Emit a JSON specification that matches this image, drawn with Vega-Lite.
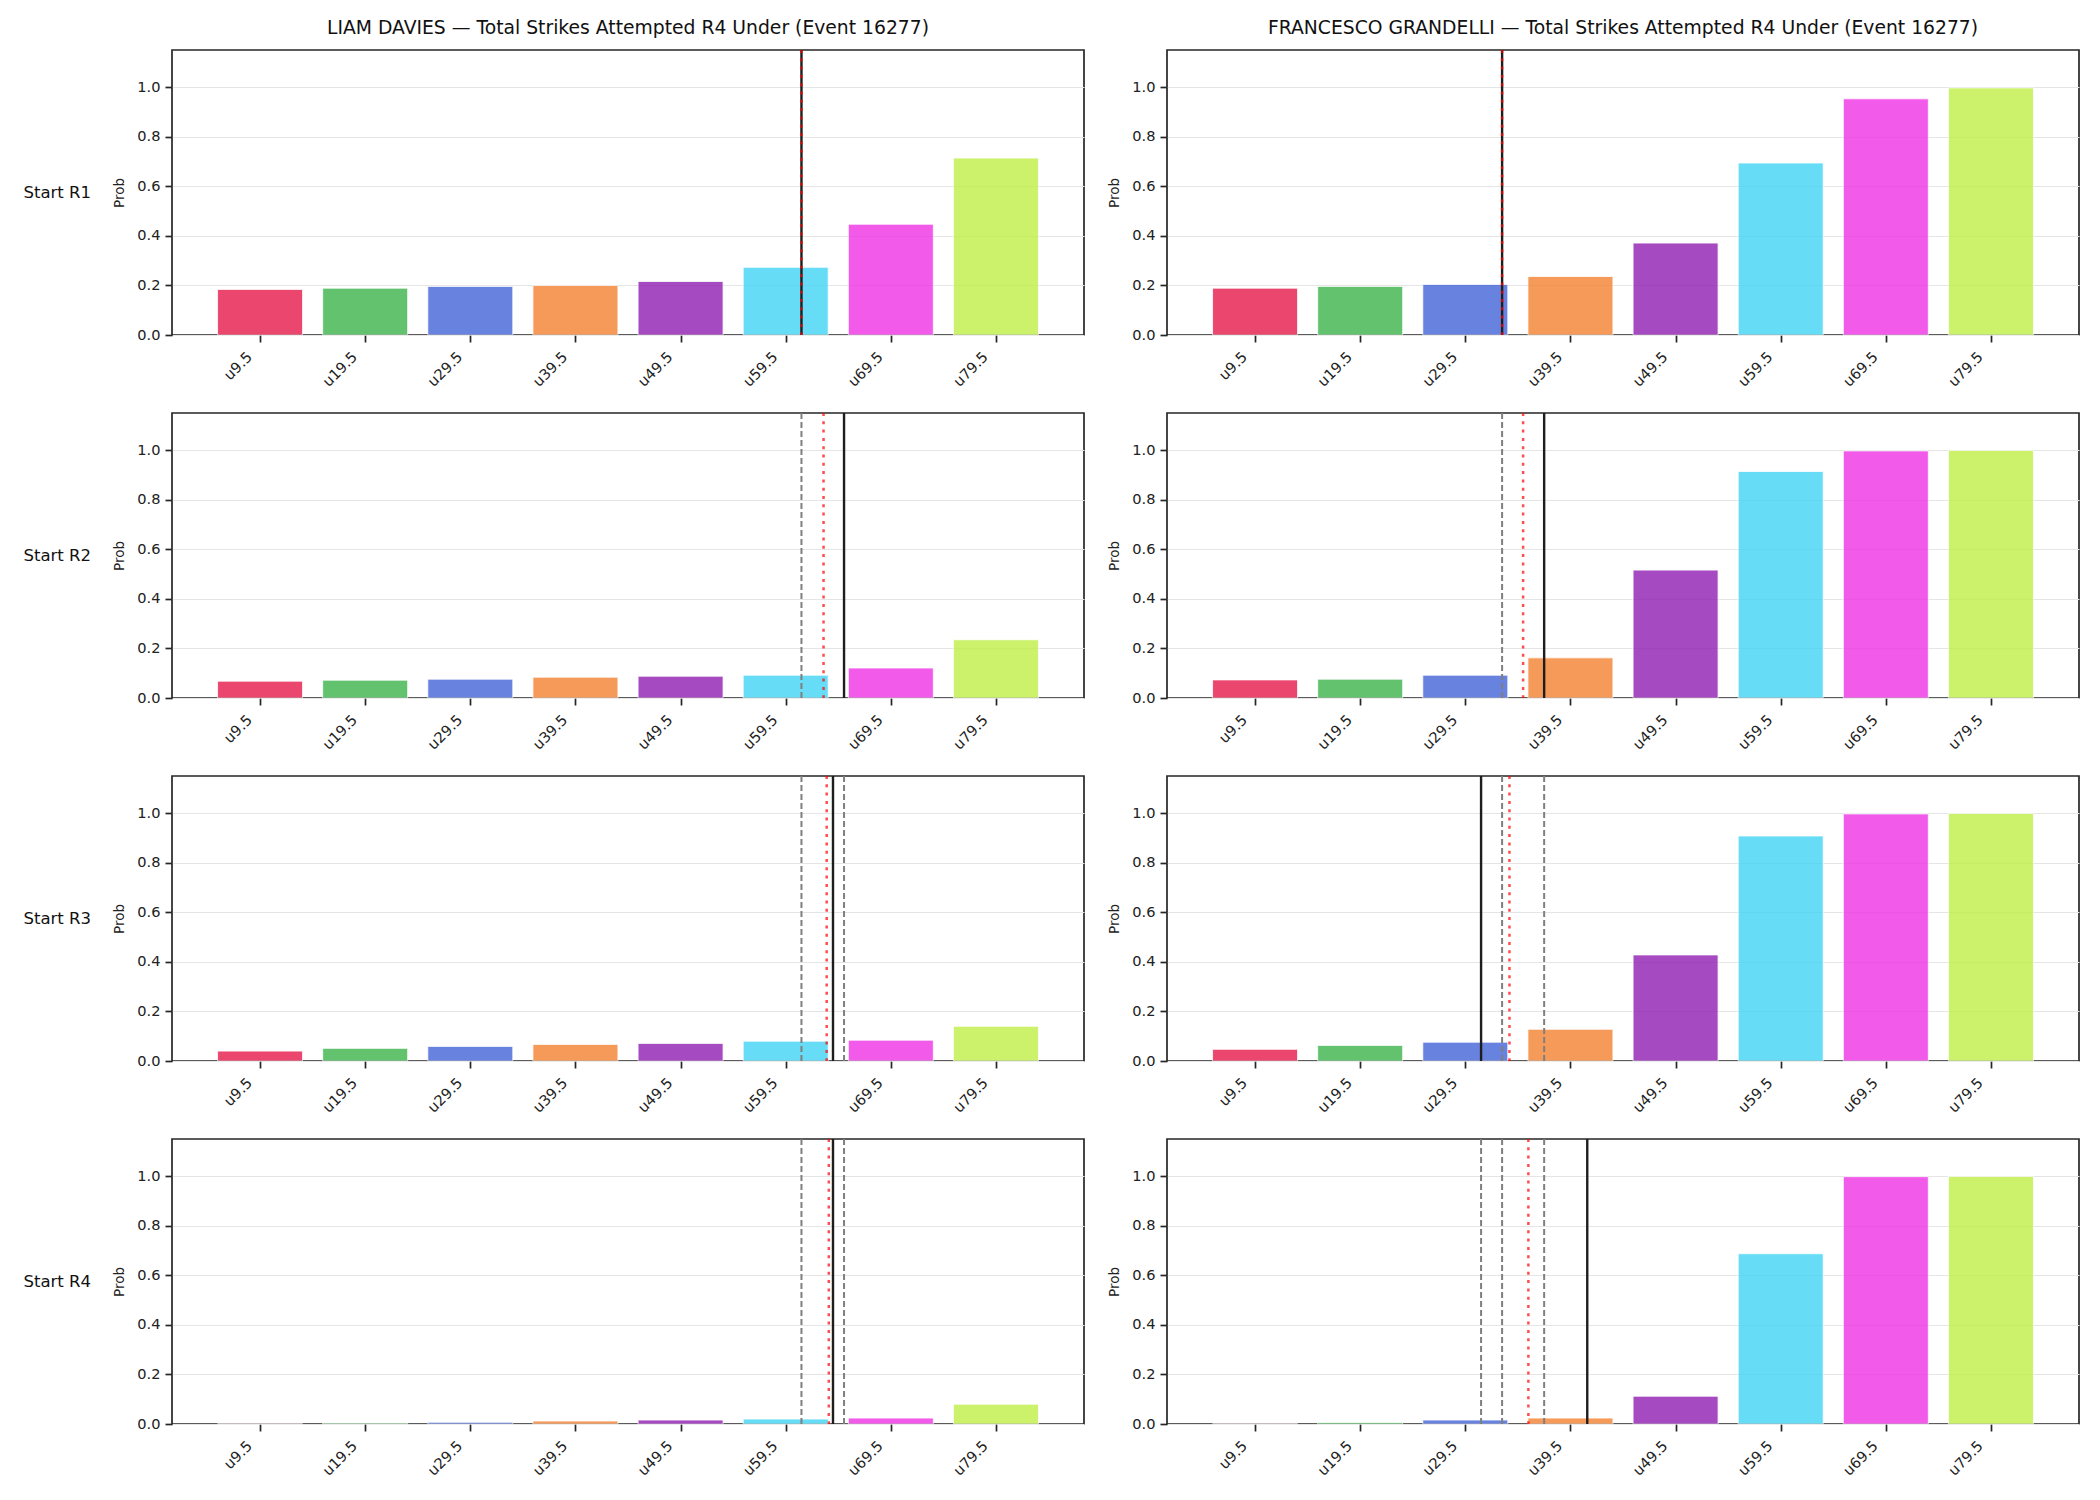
{
  "$schema": "https://vega.github.io/schema/vega-lite/v6.json",
  "background": "white",
  "padding": {"left": 23, "top": 19, "right": 10, "bottom": 10},
  "data": {
    "values": [
      {"fighter": "LIAM DAVIES", "stage": "Start R1", "kind": "bar", "strikes": 9.5, "prob": 0.184},
      {"fighter": "LIAM DAVIES", "stage": "Start R1", "kind": "bar", "strikes": 19.5, "prob": 0.189},
      {"fighter": "LIAM DAVIES", "stage": "Start R1", "kind": "bar", "strikes": 29.5, "prob": 0.196},
      {"fighter": "LIAM DAVIES", "stage": "Start R1", "kind": "bar", "strikes": 39.5, "prob": 0.2},
      {"fighter": "LIAM DAVIES", "stage": "Start R1", "kind": "bar", "strikes": 49.5, "prob": 0.216},
      {"fighter": "LIAM DAVIES", "stage": "Start R1", "kind": "bar", "strikes": 59.5, "prob": 0.273},
      {"fighter": "LIAM DAVIES", "stage": "Start R1", "kind": "bar", "strikes": 69.5, "prob": 0.447},
      {"fighter": "LIAM DAVIES", "stage": "Start R1", "kind": "bar", "strikes": 79.5, "prob": 0.714},
      {"fighter": "LIAM DAVIES", "stage": "Start R1", "kind": "line", "strikes": 61.0},
      {"fighter": "LIAM DAVIES", "stage": "Start R1", "kind": "proj", "strikes": 61.0},

      {"fighter": "LIAM DAVIES", "stage": "Start R2", "kind": "bar", "strikes": 9.5, "prob": 0.068},
      {"fighter": "LIAM DAVIES", "stage": "Start R2", "kind": "bar", "strikes": 19.5, "prob": 0.072},
      {"fighter": "LIAM DAVIES", "stage": "Start R2", "kind": "bar", "strikes": 29.5, "prob": 0.076},
      {"fighter": "LIAM DAVIES", "stage": "Start R2", "kind": "bar", "strikes": 39.5, "prob": 0.084},
      {"fighter": "LIAM DAVIES", "stage": "Start R2", "kind": "bar", "strikes": 49.5, "prob": 0.088},
      {"fighter": "LIAM DAVIES", "stage": "Start R2", "kind": "bar", "strikes": 59.5, "prob": 0.092},
      {"fighter": "LIAM DAVIES", "stage": "Start R2", "kind": "bar", "strikes": 69.5, "prob": 0.121},
      {"fighter": "LIAM DAVIES", "stage": "Start R2", "kind": "bar", "strikes": 79.5, "prob": 0.235},
      {"fighter": "LIAM DAVIES", "stage": "Start R2", "kind": "prev", "strikes": 61.0},
      {"fighter": "LIAM DAVIES", "stage": "Start R2", "kind": "line", "strikes": 65.05},
      {"fighter": "LIAM DAVIES", "stage": "Start R2", "kind": "proj", "strikes": 63.1},

      {"fighter": "LIAM DAVIES", "stage": "Start R3", "kind": "bar", "strikes": 9.5, "prob": 0.04},
      {"fighter": "LIAM DAVIES", "stage": "Start R3", "kind": "bar", "strikes": 19.5, "prob": 0.051},
      {"fighter": "LIAM DAVIES", "stage": "Start R3", "kind": "bar", "strikes": 29.5, "prob": 0.059},
      {"fighter": "LIAM DAVIES", "stage": "Start R3", "kind": "bar", "strikes": 39.5, "prob": 0.067},
      {"fighter": "LIAM DAVIES", "stage": "Start R3", "kind": "bar", "strikes": 49.5, "prob": 0.071},
      {"fighter": "LIAM DAVIES", "stage": "Start R3", "kind": "bar", "strikes": 59.5, "prob": 0.08},
      {"fighter": "LIAM DAVIES", "stage": "Start R3", "kind": "bar", "strikes": 69.5, "prob": 0.084},
      {"fighter": "LIAM DAVIES", "stage": "Start R3", "kind": "bar", "strikes": 79.5, "prob": 0.14},
      {"fighter": "LIAM DAVIES", "stage": "Start R3", "kind": "prev", "strikes": 61.0},
      {"fighter": "LIAM DAVIES", "stage": "Start R3", "kind": "prev", "strikes": 65.05},
      {"fighter": "LIAM DAVIES", "stage": "Start R3", "kind": "line", "strikes": 64.0},
      {"fighter": "LIAM DAVIES", "stage": "Start R3", "kind": "proj", "strikes": 63.4},

      {"fighter": "LIAM DAVIES", "stage": "Start R4", "kind": "bar", "strikes": 9.5, "prob": 0.001},
      {"fighter": "LIAM DAVIES", "stage": "Start R4", "kind": "bar", "strikes": 19.5, "prob": 0.004},
      {"fighter": "LIAM DAVIES", "stage": "Start R4", "kind": "bar", "strikes": 29.5, "prob": 0.007},
      {"fighter": "LIAM DAVIES", "stage": "Start R4", "kind": "bar", "strikes": 39.5, "prob": 0.012},
      {"fighter": "LIAM DAVIES", "stage": "Start R4", "kind": "bar", "strikes": 49.5, "prob": 0.016},
      {"fighter": "LIAM DAVIES", "stage": "Start R4", "kind": "bar", "strikes": 59.5, "prob": 0.02},
      {"fighter": "LIAM DAVIES", "stage": "Start R4", "kind": "bar", "strikes": 69.5, "prob": 0.024},
      {"fighter": "LIAM DAVIES", "stage": "Start R4", "kind": "bar", "strikes": 79.5, "prob": 0.08},
      {"fighter": "LIAM DAVIES", "stage": "Start R4", "kind": "prev", "strikes": 61.0},
      {"fighter": "LIAM DAVIES", "stage": "Start R4", "kind": "prev", "strikes": 65.05},
      {"fighter": "LIAM DAVIES", "stage": "Start R4", "kind": "prev", "strikes": 64.0},
      {"fighter": "LIAM DAVIES", "stage": "Start R4", "kind": "line", "strikes": 64.0},
      {"fighter": "LIAM DAVIES", "stage": "Start R4", "kind": "proj", "strikes": 63.6},

      {"fighter": "FRANCESCO GRANDELLI", "stage": "Start R1", "kind": "bar", "strikes": 9.5, "prob": 0.189},
      {"fighter": "FRANCESCO GRANDELLI", "stage": "Start R1", "kind": "bar", "strikes": 19.5, "prob": 0.196},
      {"fighter": "FRANCESCO GRANDELLI", "stage": "Start R1", "kind": "bar", "strikes": 29.5, "prob": 0.204},
      {"fighter": "FRANCESCO GRANDELLI", "stage": "Start R1", "kind": "bar", "strikes": 39.5, "prob": 0.236},
      {"fighter": "FRANCESCO GRANDELLI", "stage": "Start R1", "kind": "bar", "strikes": 49.5, "prob": 0.371},
      {"fighter": "FRANCESCO GRANDELLI", "stage": "Start R1", "kind": "bar", "strikes": 59.5, "prob": 0.694},
      {"fighter": "FRANCESCO GRANDELLI", "stage": "Start R1", "kind": "bar", "strikes": 69.5, "prob": 0.953},
      {"fighter": "FRANCESCO GRANDELLI", "stage": "Start R1", "kind": "bar", "strikes": 79.5, "prob": 0.997},
      {"fighter": "FRANCESCO GRANDELLI", "stage": "Start R1", "kind": "line", "strikes": 33.0},
      {"fighter": "FRANCESCO GRANDELLI", "stage": "Start R1", "kind": "proj", "strikes": 33.0},

      {"fighter": "FRANCESCO GRANDELLI", "stage": "Start R2", "kind": "bar", "strikes": 9.5, "prob": 0.073},
      {"fighter": "FRANCESCO GRANDELLI", "stage": "Start R2", "kind": "bar", "strikes": 19.5, "prob": 0.076},
      {"fighter": "FRANCESCO GRANDELLI", "stage": "Start R2", "kind": "bar", "strikes": 29.5, "prob": 0.092},
      {"fighter": "FRANCESCO GRANDELLI", "stage": "Start R2", "kind": "bar", "strikes": 39.5, "prob": 0.162},
      {"fighter": "FRANCESCO GRANDELLI", "stage": "Start R2", "kind": "bar", "strikes": 49.5, "prob": 0.516},
      {"fighter": "FRANCESCO GRANDELLI", "stage": "Start R2", "kind": "bar", "strikes": 59.5, "prob": 0.914},
      {"fighter": "FRANCESCO GRANDELLI", "stage": "Start R2", "kind": "bar", "strikes": 69.5, "prob": 0.997},
      {"fighter": "FRANCESCO GRANDELLI", "stage": "Start R2", "kind": "bar", "strikes": 79.5, "prob": 0.999},
      {"fighter": "FRANCESCO GRANDELLI", "stage": "Start R2", "kind": "prev", "strikes": 33.0},
      {"fighter": "FRANCESCO GRANDELLI", "stage": "Start R2", "kind": "line", "strikes": 37.0},
      {"fighter": "FRANCESCO GRANDELLI", "stage": "Start R2", "kind": "proj", "strikes": 35.0},

      {"fighter": "FRANCESCO GRANDELLI", "stage": "Start R3", "kind": "bar", "strikes": 9.5, "prob": 0.047},
      {"fighter": "FRANCESCO GRANDELLI", "stage": "Start R3", "kind": "bar", "strikes": 19.5, "prob": 0.063},
      {"fighter": "FRANCESCO GRANDELLI", "stage": "Start R3", "kind": "bar", "strikes": 29.5, "prob": 0.076},
      {"fighter": "FRANCESCO GRANDELLI", "stage": "Start R3", "kind": "bar", "strikes": 39.5, "prob": 0.128},
      {"fighter": "FRANCESCO GRANDELLI", "stage": "Start R3", "kind": "bar", "strikes": 49.5, "prob": 0.428},
      {"fighter": "FRANCESCO GRANDELLI", "stage": "Start R3", "kind": "bar", "strikes": 59.5, "prob": 0.908},
      {"fighter": "FRANCESCO GRANDELLI", "stage": "Start R3", "kind": "bar", "strikes": 69.5, "prob": 0.997},
      {"fighter": "FRANCESCO GRANDELLI", "stage": "Start R3", "kind": "bar", "strikes": 79.5, "prob": 0.999},
      {"fighter": "FRANCESCO GRANDELLI", "stage": "Start R3", "kind": "prev", "strikes": 33.0},
      {"fighter": "FRANCESCO GRANDELLI", "stage": "Start R3", "kind": "prev", "strikes": 37.0},
      {"fighter": "FRANCESCO GRANDELLI", "stage": "Start R3", "kind": "line", "strikes": 31.0},
      {"fighter": "FRANCESCO GRANDELLI", "stage": "Start R3", "kind": "proj", "strikes": 33.7},

      {"fighter": "FRANCESCO GRANDELLI", "stage": "Start R4", "kind": "bar", "strikes": 9.5, "prob": 0.001},
      {"fighter": "FRANCESCO GRANDELLI", "stage": "Start R4", "kind": "bar", "strikes": 19.5, "prob": 0.006},
      {"fighter": "FRANCESCO GRANDELLI", "stage": "Start R4", "kind": "bar", "strikes": 29.5, "prob": 0.016},
      {"fighter": "FRANCESCO GRANDELLI", "stage": "Start R4", "kind": "bar", "strikes": 39.5, "prob": 0.024},
      {"fighter": "FRANCESCO GRANDELLI", "stage": "Start R4", "kind": "bar", "strikes": 49.5, "prob": 0.112},
      {"fighter": "FRANCESCO GRANDELLI", "stage": "Start R4", "kind": "bar", "strikes": 59.5, "prob": 0.687},
      {"fighter": "FRANCESCO GRANDELLI", "stage": "Start R4", "kind": "bar", "strikes": 69.5, "prob": 0.998},
      {"fighter": "FRANCESCO GRANDELLI", "stage": "Start R4", "kind": "bar", "strikes": 79.5, "prob": 0.999},
      {"fighter": "FRANCESCO GRANDELLI", "stage": "Start R4", "kind": "prev", "strikes": 33.0},
      {"fighter": "FRANCESCO GRANDELLI", "stage": "Start R4", "kind": "prev", "strikes": 37.0},
      {"fighter": "FRANCESCO GRANDELLI", "stage": "Start R4", "kind": "prev", "strikes": 31.0},
      {"fighter": "FRANCESCO GRANDELLI", "stage": "Start R4", "kind": "line", "strikes": 41.1},
      {"fighter": "FRANCESCO GRANDELLI", "stage": "Start R4", "kind": "proj", "strikes": 35.5}
    ]
  },
  "facet": {
    "column": {
      "field": "fighter",
      "type": "nominal",
      "sort": ["LIAM DAVIES", "FRANCESCO GRANDELLI"],
      "title": null,
      "header": {
        "labelExpr": "datum.value + ' — Total Strikes Attempted R4 Under (Event 16277)'",
        "labelFontSize": 18.75,
        "labelPadding": 9
      }
    },
    "row": {
      "field": "stage",
      "type": "nominal",
      "sort": ["Start R1", "Start R2", "Start R3", "Start R4"],
      "title": null,
      "header": {
        "labelOrient": "left",
        "labelAngle": 0,
        "labelAlign": "left",
        "labelBaseline": "middle",
        "labelFontSize": 16.5,
        "labelPadding": 20
      }
    }
  },
  "spacing": {"row": 20, "column": 21},
  "resolve": {"axis": {"x": "independent", "y": "independent"}},
  "spec": {
    "width": 912,
    "height": 285,
    "encoding": {
      "x": {
        "field": "strikes",
        "type": "quantitative",
        "scale": {"domain": [1.6, 87.4], "nice": false, "zero": false},
        "axis": {
          "values": [9.5, 19.5, 29.5, 39.5, 49.5, 59.5, 69.5, 79.5],
          "format": ".1f",
          "labelExpr": "'u' + datum.label",
          "labelAngle": -45,
          "labelAlign": "right",
          "labelBaseline": "top",
          "labelOffset": -16,
          "labelPadding": 7,
          "grid": false,
          "title": null
        }
      }
    },
    "layer": [
      {
        "transform": [{"filter": "datum.kind === 'bar'"}],
        "mark": {"type": "bar", "orient": "vertical", "width": 85, "opacity": 0.8, "stroke": "white", "strokeWidth": 0.8},
        "encoding": {
          "y": {
            "field": "prob",
            "type": "quantitative",
            "stack": null,
            "scale": {"domain": [0, 1.15], "nice": false},
            "axis": {
              "values": [0, 0.2, 0.4, 0.6, 0.8, 1.0],
              "format": ".1f",
              "grid": true,
              "title": "Prob",
              "titlePadding": 10
            }
          },
          "color": {
            "field": "strikes",
            "type": "ordinal",
            "scale": {
              "domain": [9.5, 19.5, 29.5, 39.5, 49.5, 59.5, 69.5, 79.5],
              "range": ["#e6194b", "#3cb44b", "#4363d8", "#f58231", "#911eb4", "#42d4f4", "#f032e6", "#bfef45"]
            },
            "legend": null
          }
        }
      },
      {
        "transform": [{"filter": "datum.kind === 'prev'"}],
        "mark": {"type": "rule", "color": "#7f7f7f", "strokeWidth": 2, "strokeDash": [6, 3]},
        "encoding": {}
      },
      {
        "transform": [{"filter": "datum.kind === 'line'"}],
        "mark": {"type": "rule", "color": "#1e1e1e", "strokeWidth": 2.4},
        "encoding": {}
      },
      {
        "transform": [{"filter": "datum.kind === 'proj'"}],
        "mark": {"type": "rule", "color": "#ff0000", "opacity": 0.7, "strokeWidth": 2.5, "strokeDash": [3, 5.3]},
        "encoding": {}
      }
    ]
  },
  "config": {
    "font": "DejaVu Sans",
    "view": {"stroke": "#262626", "strokeWidth": 1.7},
    "axis": {
      "domain": false,
      "tickColor": "#262626",
      "tickWidth": 1.7,
      "tickSize": 7,
      "labelColor": "#222222",
      "labelFontSize": 14.6,
      "labelPadding": 5,
      "titleColor": "#222222",
      "titleFontWeight": "normal",
      "titleFontSize": 13.5,
      "gridColor": "#e5e5e5",
      "gridWidth": 1.2
    },
    "header": {"labelColor": "#111111", "labelFont": "DejaVu Sans"}
  }
}
